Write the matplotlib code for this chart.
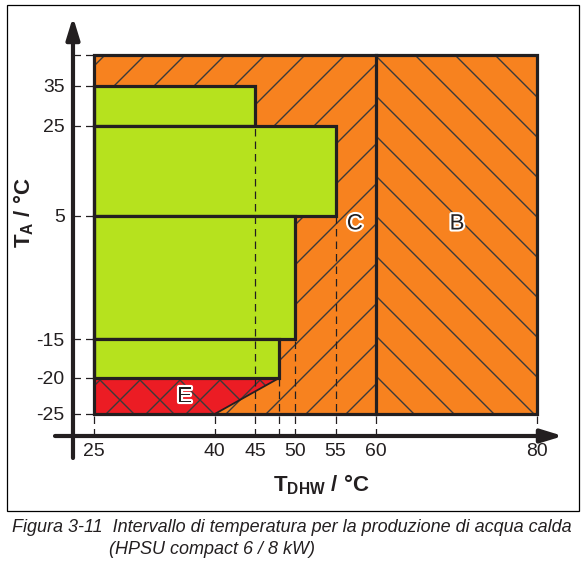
import matplotlib
matplotlib.use('Agg')
import matplotlib.pyplot as plt
import matplotlib.patheffects as pe
from matplotlib.patches import Rectangle, Polygon
import numpy as np

# render at 120 dpi so hatch spacing matches; sizes scaled back by k
DPI = 120
k = 100 / DPI

plt.rcParams['font.family'] = ['Liberation Sans', 'DejaVu Sans']
plt.rcParams['mathtext.fontset'] = 'custom'
plt.rcParams['mathtext.rm'] = 'Liberation Sans'
plt.rcParams['mathtext.bf'] = 'Liberation Sans:bold'
plt.rcParams['hatch.linewidth'] = 1.0 * k
plt.rcParams['hatch.color'] = '#3a3a3a'

# axis ticks (T_DHW and T_A)
x_ticks = [25, 40, 45, 48, 50, 55, 60, 80]
x_tick_labels = ['25', '40', '45', '', '50', '55', '60', '80']
x_tick_top = [-25, -25, 25, -20, -15, 5, -25, -25]   # where each dashed guide stops
y_ticks = [-25, -20, -15, 5, 25, 35, 45]
y_tick_labels = ['-25', '-20', '-15', '5', '25', '35', '']

# operating map
t_min, t_split, t_max = 25, 60, 80
ta_min, ta_max = -25, 45

# green bands: ambient range -> max water temp
band_low = [25, 5, -15, -20]
band_high = [35, 25, 5, -15]
band_tmax = [45, 55, 50, 48]

# zone E (backup heater)
e_start = 40
e_end = 48
e_top = -20

# non-linear ambient axis (value -> drawn position)
y_anchor_vals = [-40, -25, -20, -15, 5, 25, 35, 45, 70]
y_anchor_pos = [-86, 22, 58, 97, 220, 310, 350, 381, 458.5]

orange = '#F7821F'
green = '#B6E21E'
red = '#EC1C24'
ink = '#231F20'
hatch_gray = '#3a3a3a'


def fwd(v):
    return np.interp(v, y_anchor_vals, y_anchor_pos)


def inv(p):
    return np.interp(p, y_anchor_pos, y_anchor_vals)


fig = plt.figure(figsize=(587 / DPI, 565 / DPI), dpi=DPI)
ax = fig.add_axes([55 / 587, 1 - 458 / 565, 508 / 587, 441 / 565])
ax.set_yscale('function', functions=(fwd, inv))
ax.set_xlim(20.155, 83.26)
ax.set_ylim(inv(-22), inv(419))

x_axis_y = float(inv(0))
y_axis_x = 22.39
lw_box = 2.3 * k
lw_dash = 0.9 * k

# hatched background zones C and B
ax.add_patch(Rectangle((t_min, ta_min), t_split - t_min, ta_max - ta_min,
                       facecolor=orange, edgecolor=hatch_gray, lw=0, hatch='/', zorder=1))
ax.add_patch(Rectangle((t_split, ta_min), t_max - t_split, ta_max - ta_min,
                       facecolor=orange, edgecolor=hatch_gray, lw=0, hatch='\\', zorder=1))

# zone E
ax.add_patch(Polygon([(t_min, ta_min), (e_start, ta_min), (e_end, e_top), (t_min, e_top)],
                     closed=True, facecolor=red, edgecolor=hatch_gray, lw=0, hatch='x', zorder=2))
ax.plot([e_start, e_end], [ta_min, e_top], color=ink, lw=1.3 * k, zorder=3)

# green heat pump bands
for lo, hi, tm in zip(band_low, band_high, band_tmax):
    ax.add_patch(Rectangle((t_min, lo), tm - t_min, hi - lo,
                           facecolor=green, edgecolor=ink, lw=lw_box, zorder=3))

# dashed guides
for xt, top in zip(x_ticks, x_tick_top):
    ax.plot([xt, xt], [x_axis_y, top], color=ink, lw=lw_dash, dashes=(6, 4), zorder=4)
for yt in y_ticks:
    ax.plot([y_axis_x, t_min], [yt, yt], color=ink, lw=lw_dash, dashes=(6, 4), zorder=4)

# outer border and split line
ax.add_patch(Rectangle((t_min, ta_min), t_max - t_min, ta_max - ta_min,
                       fill=False, edgecolor=ink, lw=lw_box, zorder=5))
ax.plot([t_split, t_split], [ta_min, ta_max], color=ink, lw=lw_box, zorder=5)

# zone letters
halo = [pe.withStroke(linewidth=3 * k, foreground='white')]
letter = dict(fontsize=16 * k, color=ink, ha='center', va='center', path_effects=halo, zorder=6)
ax.text(57.4, 3.7, 'C', **letter)
ax.text(70.1, 3.7, 'B', **letter)
ax.text(36.3, -22.6, 'E', **letter)

# axes with arrows
arrow = dict(arrowstyle='-|>,head_length=0.65,head_width=0.2', lw=3 * k, color=ink,
             mutation_scale=20 * k, shrinkA=0, shrinkB=0)
ax.annotate('', xy=(1, x_axis_y), xytext=(0, x_axis_y),
            xycoords=('axes fraction', 'data'), textcoords=('axes fraction', 'data'),
            arrowprops=arrow)
ax.annotate('', xy=(y_axis_x, 1), xytext=(y_axis_x, 0),
            xycoords=('data', 'axes fraction'), textcoords=('data', 'axes fraction'),
            arrowprops=arrow)

for s in ax.spines.values():
    s.set_visible(False)
ax.spines['left'].set_position(('data', y_axis_x))
ax.spines['bottom'].set_position(('data', x_axis_y))

ax.set_xticks(x_ticks, x_tick_labels)
ax.set_yticks(y_ticks, y_tick_labels)
ax.minorticks_off()
ax.tick_params(axis='both', length=0, labelsize=14 * k, labelcolor=ink)
ax.tick_params(axis='y', pad=6 * k)
ax.tick_params(axis='x', pad=5 * k)
ax.patch.set_visible(False)

fig.text(321 / 587, 1 - 485 / 565, r'$\mathbf{T_{DHW}}$ / °C', fontsize=16 * k, fontweight='bold',
         color=ink, ha='center', va='center')
fig.text(24 / 587, 1 - 213 / 565, r'$\mathbf{T_{A}}$ / °C', fontsize=16 * k, fontweight='bold',
         color=ink, ha='center', va='center', rotation=90)

# frame and caption
fig.add_artist(Rectangle((7 / 587, 1 - 511 / 565), 572 / 587, 506 / 565,
                         transform=fig.transFigure, fill=False, edgecolor='black', lw=0.9 * k))
caption = dict(fontsize=13 * k, style='italic', color=ink, ha='left', va='center')
fig.text(12 / 587, 1 - 527 / 565,
         'Figura 3-11  Intervallo di temperatura per la produzione di acqua calda', **caption)
fig.text(109 / 587, 1 - 549 / 565, '(HPSU compact 6 / 8 kW)', **caption)

fig.savefig('out.png', dpi=DPI)
